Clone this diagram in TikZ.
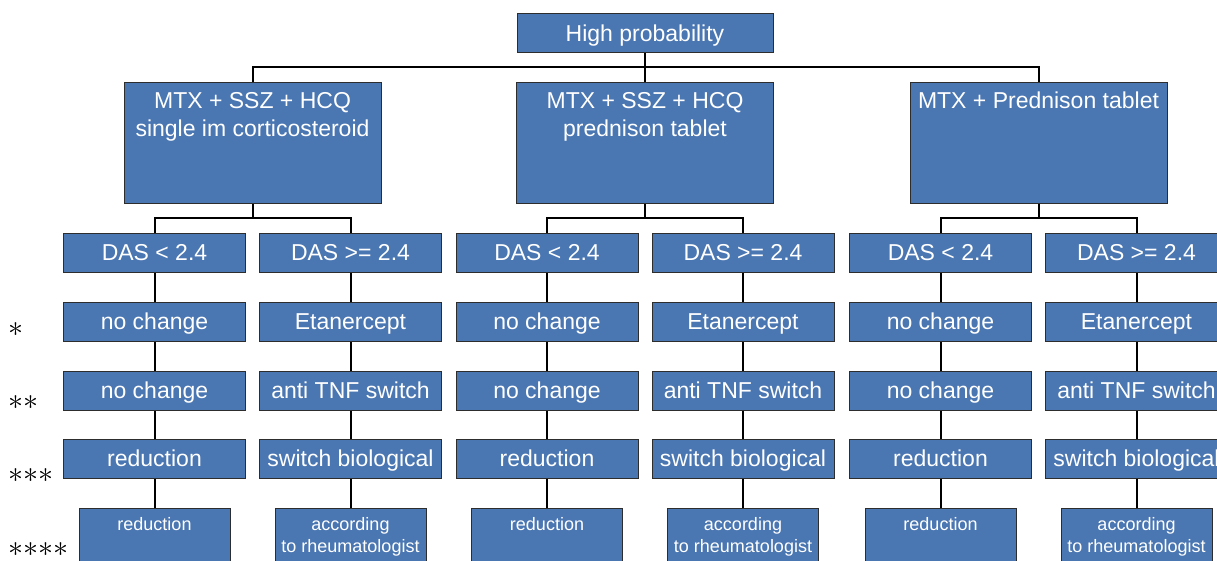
\documentclass[tikz,border=0pt]{standalone}
\usepackage{fix-cm}
\usepackage{fontspec}
\setmainfont{Liberation Sans}
\usetikzlibrary{backgrounds}
\definecolor{boxblue}{RGB}{74,118,178}
\definecolor{boxedge}{RGB}{45,45,45}
\newcommand\astr{\mathord{\ast}}
\newcommand\bigtxt[1]{\parbox[c][121pt][t]{257pt}{\centering\rule{0pt}{27pt}#1}}
\newcommand\leaftxt[1]{\parbox[c][70pt][t]{151pt}{\centering\rule{0pt}{22pt}#1}}
\begin{document}
\begin{tikzpicture}[x=1pt,y=-1pt,
  boxbase/.style={draw=boxedge, line width=0.8pt, fill=boxblue, text=white, inner sep=0pt},
  small/.style={boxbase, minimum width=182pt, minimum height=39pt, text height=16.5pt, text depth=0pt, font=\fontsize{23}{28}\selectfont},
  big/.style={boxbase, font=\fontsize{23}{28}\selectfont},
  leaf/.style={boxbase, font=\fontsize{18}{22}\selectfont},
  conn/.style={line width=2pt, black},
  star/.style={anchor=west, inner sep=0pt, font=\fontsize{30}{30}\selectfont}]
\useasboundingbox (0,0) rectangle (1217,561);
\node[small, minimum width=256pt] (hp) at (645,33) {High probability};
\node[big] (m1) at (252.5,142.5) {\bigtxt{MTX + SSZ + HCQ\\single im corticosteroid}};
\node[big] (m2) at (645,142.5) {\bigtxt{MTX + SSZ + HCQ\\prednison tablet}};
\node[big] (m3) at (1038.5,142.5) {\bigtxt{MTX + Prednison tablet}};
\coordinate (top) at (645,67);
\begin{scope}[on background layer]
\draw[conn] (hp) -- (m2);
\draw[conn] (m1.north) |- (top) -| (m3.north);
\end{scope}
\foreach \g/\cx in {1/252.5,2/645,3/1038.5} {
  \node[small] (dasl\g) at (\cx-98,252.5) {DAS < 2.4};
  \node[small] (dasr\g) at (\cx+98,252.5) {DAS >= 2.4};
  \node[small] (nca\g) at (\cx-98,321.5) {no change};
  \node[small] (eta\g) at (\cx+98,321.5) {Etanercept};
  \node[small] (ncb\g) at (\cx-98,390.5) {no change};
  \node[small] (tnf\g) at (\cx+98,390.5) {anti TNF switch};
  \node[small] (red\g) at (\cx-98,458.5) {reduction};
  \node[small] (swb\g) at (\cx+98,458.5) {switch biological};
  \node[leaf] (lred\g) at (\cx-98,543) {\leaftxt{reduction}};
  \node[leaf] (lacc\g) at (\cx+98,543) {\leaftxt{according\\to rheumatologist}};
  \coordinate (j\g) at (\cx,218);
  \begin{scope}[on background layer]
  \draw[conn] (m\g) -- (j\g);
  \draw[conn] (dasl\g.north) |- (j\g) -| (dasr\g.north);
  \draw[conn] (dasl\g) -- (nca\g);
  \draw[conn] (nca\g) -- (ncb\g);
  \draw[conn] (ncb\g) -- (red\g);
  \draw[conn] (red\g) -- (lred\g);
  \draw[conn] (dasr\g) -- (eta\g);
  \draw[conn] (eta\g) -- (tnf\g);
  \draw[conn] (tnf\g) -- (swb\g);
  \draw[conn] (swb\g) -- (lacc\g);
  \end{scope}
}
\node[star] (s1) at (8,330) {$\astr$};
\node[star] (s2) at (8,403) {$\astr\astr$};
\node[star] (s3) at (8,476) {$\astr\astr\astr$};
\node[star] (s4) at (8,550) {$\astr\astr\astr\astr$};
\end{tikzpicture}
\end{document}
